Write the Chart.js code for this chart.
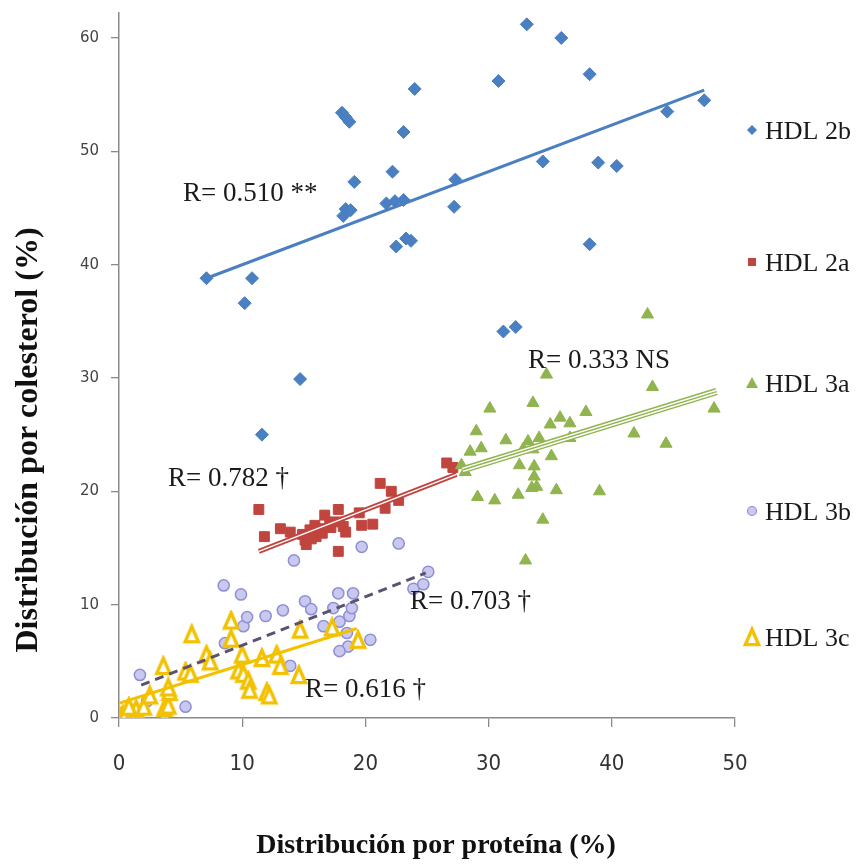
<!DOCTYPE html>
<html>
<head>
<meta charset="utf-8">
<script src="https://cdn.jsdelivr.net/npm/chart.js@4"></script>
<style>
body{margin:0;background:#fff}
canvas{display:block}
</style>
</head>
<body>
<canvas id="hdlChart" width="857" height="865"></canvas>
<script>
// points as [proteina %, colesterol %]
const hdl2b=[[7.1,38.8],[10.8,38.8],[10.2,36.6],[11.6,25.0],[14.7,29.9],[18.1,53.4],[18.4,53.0],[18.7,52.6],[19.1,47.3],
[18.2,44.3],[18.4,44.9],[18.8,44.8],[21.7,45.4],[22.2,48.2],[22.4,45.6],[23.1,45.7],[23.1,51.7],[22.5,41.6],[23.3,42.3],
[23.7,42.1],[24.0,55.5],[27.3,47.5],[27.2,45.1],[30.8,56.2],[31.2,34.1],[32.2,34.5],[33.1,61.2],[34.4,49.1],[35.9,60.0],
[38.2,56.8],[38.2,41.8],[38.9,49.0],[40.4,48.7],[44.5,53.5],[47.5,54.5]]

const hdl2a=[[11.35,18.4],[11.8,16.0],[13.1,16.7],[13.9,16.4],[14.9,16.2],[15.1,15.7],[15.2,15.3],[15.5,16.6],[15.6,15.8],
[15.9,17.0],[16.0,16.0],[16.3,16.7],[16.5,16.3],[16.7,17.9],[17.1,17.3],[17.2,16.8],[17.8,18.4],[17.9,17.3],[18.2,16.9],
[18.4,16.4],[17.8,14.7],[19.5,18.1],[19.7,17.0],[20.6,17.1],[21.2,20.7],[22.1,20.0],[21.6,18.5],[22.7,19.2],[26.6,22.5],[27.1,22.1]]

const hdl3a=[[42.9,35.6],[34.7,30.3],[43.3,29.2],[30.1,27.3],[33.6,27.8],[37.9,27.0],[48.3,27.3],[29.0,25.3],[31.4,24.5],
[29.4,23.8],[28.5,23.5],[33.2,24.4],[34.1,24.7],[35.0,25.9],[35.8,26.5],[36.6,26.0],[36.6,24.7],[33.6,23.7],[32.8,23.7],
[35.1,23.1],[41.8,25.1],[44.4,24.2],[27.8,22.3],[28.1,21.7],[32.5,22.3],[33.7,22.2],[33.7,21.3],[33.9,20.4],[29.1,19.5],
[30.5,19.2],[32.4,19.7],[33.5,20.3],[35.5,20.1],[39.0,20.0],[34.4,17.5],[33.0,13.9]]

const hdl3b=[[1.7,3.8],[3.7,0.3],[5.4,1.0],[1.2,0.7],[2.3,1.5],[8.5,11.7],[8.6,6.6],[9.9,10.9],[10.1,8.1],[10.4,8.9],
[11.9,9.0],[13.3,9.5],[13.9,4.6],[14.2,13.9],[15.1,10.3],[15.6,9.6],[16.6,8.1],[17.4,9.7],[17.8,11.0],[17.9,8.5],
[18.5,7.5],[18.7,9.0],[18.9,9.7],[19.0,11.0],[18.6,6.3],[17.9,5.9],[20.4,6.9],[19.7,15.1],[22.7,15.4],[23.9,11.4],
[24.7,11.8],[25.1,12.9]]

const hdl3c=[[0.1,0.1],[0.3,0.3],[0.6,0.5],[1.0,0.3],[1.4,0.8],[0.8,1.0],[2.0,1.0],[2.5,2.0],[3.7,0.9],[4.0,1.1],
[4.1,2.3],[4.0,2.7],[3.6,4.6],[5.4,4.1],[5.8,3.9],[5.9,7.4],[7.1,5.6],[7.4,5.0],[9.1,8.6],[9.1,7.0],[9.7,4.2],
[10.0,5.6],[10.1,3.9],[10.5,3.3],[10.6,2.5],[11.6,5.3],[12.0,2.3],[12.2,2.0],[12.8,5.6],[13.1,4.6],[14.6,3.8],
[14.7,7.8],[17.3,8.0],[19.4,6.9]]

// fitted line end points
const fit2b=[[7.1,38.8],[47.5,55.4]]
const fit2a=[[11.35,14.7],[27.4,21.5]]
const fit3a=[[27.9,21.9],[48.5,28.8]]
const fit3b=[[1.8,2.9],[24.9,12.8]]
const fit3c=[[0,1.3],[19.3,7.9]]

const xTicks=[0,10,20,30,40,50]
const yTicks=[0,10,20,30,40,50,60]
const seriesNames=["HDL 2b","HDL 2a","HDL 3a","HDL 3b","HDL 3c"]
const rLabels=["R= 0.510 **","R= 0.782 †","R= 0.333 NS","R= 0.703 †","R= 0.616 †"]

const BLUE="#4a7fc1",RED="#c0453f",GREEN="#90b44e",LILAC="#c9c9f0",LILAC_EDGE="#8f8fd6",GOLD="#f2c100",DASH="#5c5270"

function pts(a){return a.map(p=>({x:p[0],y:p[1]}))}

// hollow tall triangle used for HDL 3c
function openTriangle(w,h,lw){
let c=document.createElement("canvas")
c.width=w+lw*2
c.height=h+lw*2
let g=c.getContext("2d")
g.beginPath()
g.moveTo(c.width/2,lw)
g.lineTo(c.width-lw,c.height-lw)
g.lineTo(lw,c.height-lw)
g.closePath()
g.fillStyle="#fff"
g.fill()
g.lineWidth=lw
g.lineJoin="miter"
g.strokeStyle=GOLD
g.stroke()
return c
}
const triImg=openTriangle(14,16,3.4)

function fitLine(data,color,width,order,dash){
return{type:"line",data:pts(data),borderColor:color,borderWidth:width,borderDash:dash||[],
pointRadius:0,showLine:true,fill:false,order:order,borderCapStyle:"butt"}
}

// legend and free text drawn after the datasets
const extras={
id:"extras",
afterDraw(chart){
let ctx=chart.ctx
ctx.save()
ctx.fillStyle="#1a1a1a"
ctx.textBaseline="alphabetic"
ctx.textAlign="left"

ctx.font="27px 'Liberation Serif', serif"
let rPos=[[183,201],[168,486],[528,368],[410,609],[305,697]]
rLabels.forEach((t,i)=>ctx.fillText(t,rPos[i][0],rPos[i][1]))

// legend
ctx.font="26px 'Liberation Serif', serif"
let ly=[130,262,383,511,637]
seriesNames.forEach((t,i)=>ctx.fillText(t,765,ly[i]+9))
let mx=752
ctx.fillStyle=BLUE
ctx.beginPath();ctx.moveTo(mx-5,ly[0]);ctx.lineTo(mx,ly[0]-5);ctx.lineTo(mx+5,ly[0]);ctx.lineTo(mx,ly[0]+5);ctx.fill()
ctx.fillStyle=RED
ctx.fillRect(mx-4,ly[1]-4,8,8)
ctx.fillStyle=GREEN
ctx.beginPath();ctx.moveTo(mx,ly[2]-6);ctx.lineTo(mx+6,ly[2]+5);ctx.lineTo(mx-6,ly[2]+5);ctx.fill()
ctx.beginPath();ctx.arc(mx,ly[3],4.5,0,Math.PI*2)
ctx.fillStyle=LILAC;ctx.fill();ctx.lineWidth=1.2;ctx.strokeStyle=LILAC_EDGE;ctx.stroke()
ctx.drawImage(triImg,mx-triImg.width/2,ly[4]-triImg.height/2)

// axis titles
ctx.fillStyle="#111"
ctx.font="bold 28px 'Liberation Serif', serif"
ctx.textAlign="center"
ctx.fillText("Distribución por proteína (%)",436,853)
ctx.translate(37,440)
ctx.rotate(-Math.PI/2)
ctx.font="bold 32px 'Liberation Serif', serif"
ctx.fillText("Distribución por colesterol (%)",0,0)
ctx.restore()
}
}

new Chart(document.getElementById("hdlChart"),{
type:"scatter",
data:{
datasets:[
fitLine(fit2b,BLUE,3,1),
fitLine(fit2a,"#fff",1.4,0),
fitLine(fit2a,RED,5,1),
fitLine(fit3a,GREEN,1.4,0),
fitLine(fit3a,"#fff",4.4,1),
fitLine(fit3a,GREEN,7.4,2),
fitLine(fit3b,DASH,3,0,[9,6]),
fitLine(fit3c,GOLD,3,1),
{label:seriesNames[4],data:pts(hdl3c),pointStyle:triImg,order:10},
{label:seriesNames[3],data:pts(hdl3b),pointStyle:"circle",pointRadius:5.6,backgroundColor:LILAC,borderColor:LILAC_EDGE,borderWidth:1.5,order:11},
{label:seriesNames[2],data:pts(hdl3a),pointStyle:"triangle",pointRadius:7,backgroundColor:GREEN,borderColor:GREEN,borderWidth:1,order:12},
{label:seriesNames[1],data:pts(hdl2a),pointStyle:"rect",pointRadius:7,backgroundColor:RED,borderColor:RED,borderWidth:1,order:13},
{label:seriesNames[0],data:pts(hdl2b),pointStyle:"rectRot",pointRadius:6.5,backgroundColor:BLUE,borderColor:BLUE,borderWidth:1,order:14}
]
},
options:{
responsive:false,
animation:false,
events:[],
layout:{padding:{top:13,right:122,left:0,bottom:0}},
plugins:{legend:{display:false},tooltip:{enabled:false}},
scales:{
x:{
type:"linear",min:0,max:50,
afterBuildTicks:s=>{s.ticks=xTicks.map(v=>({value:v}))},
afterFit:s=>{s.height=147},
grid:{drawOnChartArea:false,drawTicks:true,tickLength:9,color:"#8a8a8a",lineWidth:1.3},
border:{color:"#8a8a8a",width:1.5},
ticks:{padding:24,color:"#333",font:{family:"'Liberation Sans Narrow','DejaVu Sans Condensed',sans-serif",size:22}}
},
y:{
type:"linear",min:0,max:62.2,
afterBuildTicks:s=>{s.ticks=yTicks.map(v=>({value:v}))},
afterFit:s=>{s.width=119;s.paddingTop=0;s.paddingBottom=0},
grid:{drawOnChartArea:false,drawTicks:true,tickLength:8,color:"#8a8a8a",lineWidth:1.3},
border:{color:"#8a8a8a",width:1.5},
ticks:{padding:12,color:"#444",font:{family:"'DejaVu Sans',sans-serif",size:15}}
}
}
},
plugins:[extras]
})
</script>
</body>
</html>
